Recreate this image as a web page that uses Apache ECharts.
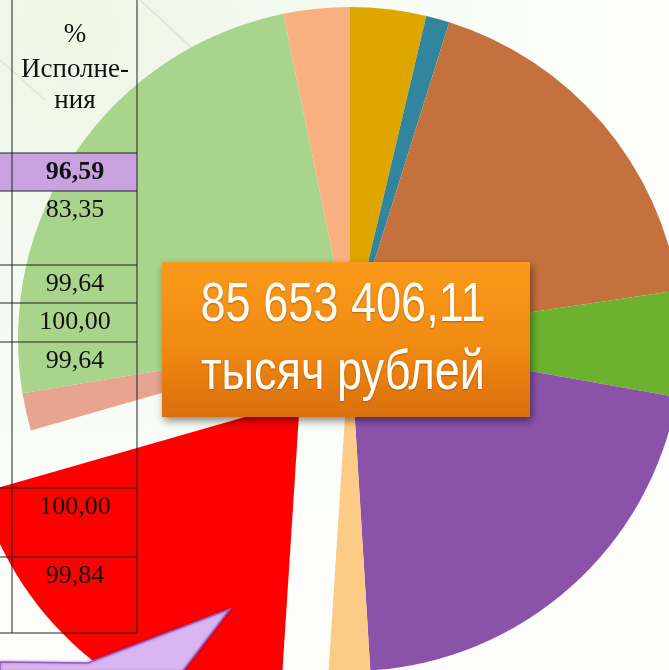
<!DOCTYPE html>
<html>
<head>
<meta charset="utf-8">
<script src="https://cdn.jsdelivr.net/npm/echarts@6/dist/echarts.min.js"></script>
<style>
  html, body { margin: 0; padding: 0; background: #fff; }
  #chart { width: 669px; height: 670px; }
</style>
</head>
<body>
<div id="chart"></div>
<script>
// pie shares (percent of total), clockwise from 12 o'clock
const sliceNames = ['s1', 's2', 's3', 's4', 's5', 's6', 's7', 's8', 's9', 's10'];
const sliceShares = [3.69, 1.14, 17.83, 5.14, 21.22, 2.0, 19.53, 1.83, 24.39, 3.22];
const sliceColors = ['#E0A600', '#31859C', '#C4713D', '#6CB22F', '#8A52A8',
                     '#FCCB85', '#FF0000', '#E6A491', '#A8D48C', '#FAB081'];
const explodedSlice = 6;

const totalText = '85 653 406,11';
const unitText = 'тысяч рублей';

// table column on the left
const headerLines = ['%', 'Исполне-', 'ния'];
const percentValues = ['96,59', '83,35', '99,64', '100,00', '99,64', '100,00', '99,84'];

const chart = echarts.init(document.getElementById('chart'));

const rowTops = [153, 191, 265, 303, 342, 488, 557, 633];
const colLeft = 12, colRight = 137, colMid = 75;
const serif = '"Liberation Serif", "Times New Roman", serif';

const graphics = [];

// slide background
graphics.push({
  type: 'rect', z: -10, silent: true,
  shape: { x: 0, y: 0, width: 669, height: 670 },
  style: {
    fill: new echarts.graphic.RadialGradient(0.1, 0.05, 0.9, [
      { offset: 0, color: '#eef6e6' },
      { offset: 0.6, color: '#f8fcf5' },
      { offset: 1, color: '#fdfefc' }
    ])
  }
});
graphics.push({
  type: 'line', z: -9, silent: true,
  shape: { x1: 140, y1: 0, x2: 205, y2: 60 },
  style: { stroke: 'rgba(170,180,170,0.25)', lineWidth: 2 }
});
graphics.push({
  type: 'line', z: -9, silent: true,
  shape: { x1: 0, y1: 60, x2: 45, y2: 100 },
  style: { stroke: 'rgba(170,180,170,0.2)', lineWidth: 2 }
});

// highlighted first row
graphics.push({
  type: 'rect', z: 10, silent: true,
  shape: { x: 0, y: rowTops[0], width: colRight, height: rowTops[1] - rowTops[0] },
  style: { fill: '#C9A3E0' }
});

// table grid
rowTops.forEach(y => {
  graphics.push({
    type: 'line', z: 11, silent: true,
    shape: { x1: 0, y1: y, x2: colRight, y2: y },
    style: { stroke: '#222', lineWidth: 1 }
  });
});
[colLeft, colRight].forEach(x => {
  graphics.push({
    type: 'line', z: 11, silent: true,
    shape: { x1: x, y1: 0, x2: x, y2: rowTops[rowTops.length - 1] },
    style: { stroke: '#222', lineWidth: 1 }
  });
});

// header text
const headerY = [35, 70, 101];
headerLines.forEach((t, i) => {
  graphics.push({
    type: 'text', z: 12, silent: true,
    style: { text: t, x: colMid, y: headerY[i], fill: '#111', font: '27px ' + serif,
             align: 'center', verticalAlign: 'middle' }
  });
});

// percent values
percentValues.forEach((t, i) => {
  graphics.push({
    type: 'text', z: 12, silent: true,
    style: {
      text: t, x: colMid, y: rowTops[i] + 19, fill: '#111',
      font: (i === 0 ? 'bold ' : '') + '26px ' + serif,
      align: 'center', verticalAlign: 'middle'
    }
  });
});

// lilac arrow at bottom left
graphics.push({
  type: 'polygon', z: 13, silent: true,
  shape: { points: [[230, 609], [88, 663], [0, 662], [0, 672], [182, 672]] },
  style: { fill: '#D9B5F2', stroke: '#9A5CC4', lineWidth: 1.5,
           shadowBlur: 3, shadowColor: 'rgba(80,0,80,0.4)' }
});

// orange total box
graphics.push({
  type: 'rect', z: 20, silent: true,
  shape: { x: 162, y: 262, width: 368, height: 155 },
  style: {
    fill: new echarts.graphic.LinearGradient(0, 0, 0, 1, [
      { offset: 0, color: '#FA9A1C' },
      { offset: 0.55, color: '#F08A12' },
      { offset: 1, color: '#DA6F0E' }
    ]),
    shadowBlur: 8, shadowOffsetX: 2, shadowOffsetY: 4, shadowColor: 'rgba(0,0,0,0.45)'
  }
});
[[totalText, 306], [unitText, 374]].forEach(([t, y]) => {
  graphics.push({
    type: 'text', z: 21, silent: true,
    x: 343, y: y, scaleX: 0.82,
    style: {
      text: t, x: 0, y: 0, fill: '#fffdf5',
      font: '55px "Liberation Sans", Arial, sans-serif',
      align: 'center', verticalAlign: 'middle',
      textShadowBlur: 2, textShadowColor: 'rgba(120,50,0,0.5)', textShadowOffsetY: 1
    }
  });
});

const option = {
  animation: false,
  backgroundColor: '#ffffff',
  graphic: { elements: graphics },
  series: [{
    type: 'pie',
    z: 2,
    center: [350, 339],
    radius: 332,
    startAngle: 90,
    clockwise: true,
    selectedMode: 'single',
    selectedOffset: 80,
    silent: true,
    label: { show: false },
    labelLine: { show: false },
    emphasis: { disabled: true },
    itemStyle: { borderWidth: 0 },
    data: sliceShares.map((v, i) => ({
      name: sliceNames[i],
      value: v,
      selected: i === explodedSlice,
      itemStyle: { color: sliceColors[i] }
    }))
  }]
};

chart.setOption(option);
</script>
</body>
</html>
